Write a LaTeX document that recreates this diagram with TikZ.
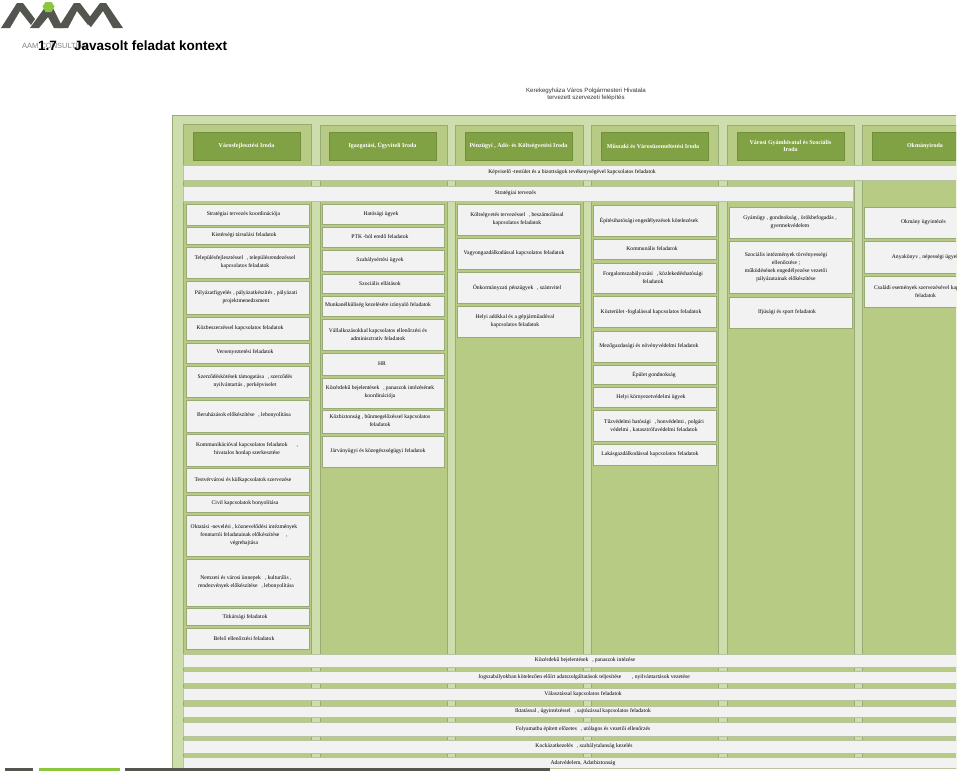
\documentclass[tikz,border=0pt]{standalone}
\usepackage{fontspec}
\setmainfont{Liberation Serif}
\setsansfont{Liberation Sans}
\definecolor{panelgreen}{HTML}{CDDDAC}
\definecolor{colgreen}{HTML}{B7CB84}
\definecolor{edgegreen}{HTML}{98AB76}
\definecolor{headgreen}{HTML}{80A244}
\definecolor{headedge}{HTML}{6F8F3A}
\definecolor{boxgray}{HTML}{F2F2F2}
\definecolor{logogray}{HTML}{53554F}
\definecolor{logogreen}{HTML}{8CC63F}
\newcommand{\gapc}{\hspace{0.7em},\hspace{0.2em}}
\tikzset{
	panel/.style={fill=panelgreen, draw=edgegreen, line width=0.6pt},
	column/.style={fill=colgreen, draw=edgegreen, line width=0.8pt},
	header/.style={fill=headgreen, draw=headedge, line width=0.6pt},
	headtext/.style={text=white, font=\bfseries\fontsize{6}{7.4}\selectfont, align=center},
	task/.style={fill=boxgray, draw=edgegreen, line width=0.9pt},
	tasktext/.style={font=\fontsize{5.6}{8}\selectfont, align=center},
	band/.style={fill=boxgray, draw=edgegreen!70, line width=0.3pt},
}
\begin{document}
\begin{tikzpicture}[x=1pt,y=-1pt]
	\useasboundingbox (0,0) rectangle (960,774);

	%Logo
	\fill[logogray] (1,28) -- (17,3) -- (23,3) -- (35,19) -- (31,25) -- (20,11) -- (10,28) -- cycle;
	\fill[logogray] (30,28) -- (46,6) -- (52,6) -- (63,28) -- (54,28) -- (48,17) -- (39,28) -- cycle;
	\fill[logogray] (58,28) -- (74,3) -- (80,3) -- (92,19) -- (88,25) -- (77,11) -- (68,28) -- cycle;
	\fill[logogray] (86,22) -- (100,3) -- (106,3) -- (123,28) -- (113,28) -- (103,11) -- (91,27) -- cycle;
	\fill[logogreen] (42.5,6.5) -- (45.5,2) -- (51.5,2) -- (54.5,6.5) -- (51.5,12) -- (45.5,12) -- cycle;
	\node[font=\sffamily\fontsize{7.5}{9}\selectfont, text=gray, anchor=west, inner sep=0pt] (brand) at (22,45.5) {AAM CONSULTING};
	\node[font=\sffamily\bfseries\fontsize{13.5}{15}\selectfont, anchor=west, inner sep=0pt] (title) at (38,45.5) {1.7\hspace{1.27em}Javasolt feladat kontext};

	%Caption
	\node[font=\sffamily\fontsize{6.1}{7.4}\selectfont, align=center, text=black!80] (caption) at (586,94.5) {Kerekegyháza Város Polgármesteri Hivatala\\tervezett szervezeti felépítés};

	\begin{scope}
	\clip (0,0) rectangle (956,774);

	%Panel and columns
	\filldraw[panel] (172,115) rectangle (970,768);
	\filldraw[column] (183,124) rectangle (311,768);
	\filldraw[column] (320,125) rectangle (447,768);
	\filldraw[column] (455,125) rectangle (583,768);
	\filldraw[column] (591,125) rectangle (718,768);
	\filldraw[column] (727,125) rectangle (854,768);
	\filldraw[column] (862,125) rectangle (990,768);

	%Offices
	\filldraw[header] (193,132) rectangle (300,160);
	\node[headtext] (varos) at (246.5,146) {Városfejlesztési Iroda};
	\filldraw[header] (329,132) rectangle (436,160);
	\node[headtext] (igazgatas) at (382.5,146) {Igazgatási, Ügyviteli Iroda};
	\filldraw[header] (465,132) rectangle (572,160);
	\node[headtext] (penzugy) at (518.5,146) {Pénzügyi , Adó- és Költségvetési Iroda};
	\filldraw[header] (601,132) rectangle (708,160);
	\node[headtext] (muszaki) at (653,146) {Műszaki és Városüzemeltetési Iroda};
	\filldraw[header] (737,132) rectangle (844,160);
	\node[headtext] (gyamhivatal) at (790.5,146) {Városi Gyámhivatal és Szociális\\Iroda};
	\filldraw[header] (872,132) rectangle (990,160);
	\node[headtext] (okmany) at (925,146) {Okmányiroda};

	%Bands
	\filldraw[band] (183,165) rectangle (970,180);
	\node[tasktext] (kepviselo) at (572,172.5) {Képviselő -testület és a bizottságok tevékenységével kapcsolatos feladatok};
	\filldraw[band] (183,186) rectangle (853,201);
	\node[tasktext] (strategia) at (515.5,193.5) {Stratégiai tervezés};

	\filldraw[band] (183,654) rectangle (970,667);
	\node[tasktext] (kozerdeku) at (585,660.5) {Közérdekű bejelentések\gapc panaszok intézése};
	\filldraw[band] (183,671) rectangle (970,683);
	\node[tasktext] (jogszabaly) at (584,677) {Jogszabályokban kötelezően előírt adatszolgáltatások teljesítése\hspace{1.9em}, nyilvántartások vezetése};
	\filldraw[band] (183,688) rectangle (970,700);
	\node[tasktext] (valasztas) at (583,694) {Választással kapcsolatos feladatok};
	\filldraw[band] (183,706) rectangle (970,717);
	\node[tasktext] (iktatas) at (583,711.5) {Iktatással , ügyintézéssel\gapc sajtózással kapcsolatos feladatok};
	\filldraw[band] (183,722) rectangle (970,736);
	\node[tasktext] (folyamat) at (583,729) {Folyamatba épített előzetes\gapc utólagos és vezetői ellenőrzés};
	\filldraw[band] (183,740) rectangle (970,753);
	\node[tasktext] (kockazat) at (584,746.5) {Kockázatkezelés\gapc szabálytalanság kezelés};
	\filldraw[band] (183,757) rectangle (970,768);
	\node[tasktext] (adat) at (583,763.5) {Adatvédelem, Adatbiztonság};

	%Varosfejlesztes
	\filldraw[task] (186,204) rectangle (309,225);
	\node[tasktext] (v1) at (243.5,214.5) {Stratégiai tervezés koordinációja};
	\filldraw[task] (186,227) rectangle (309,244);
	\node[tasktext] (v2) at (244,235.5) {Kistérségi társulási feladatok};
	\filldraw[task] (186,247) rectangle (309,278);
	\node[tasktext] (v3) at (245,262.5) {Településfejlesztéssel\gapc településrendezéssel\\kapcsolatos feladatok};
	\filldraw[task] (186,281) rectangle (309,314);
	\node[tasktext] (v4) at (246,297.5) {Pályázatfigyelés\hspace{0.3em}, pályázatkészítés\hspace{0.3em}, pályázati\\projektmenedzsment};
	\filldraw[task] (186,317) rectangle (309,340);
	\node[tasktext] (v5) at (240,328.5) {Közbeszerzéssel kapcsolatos feladatok};
	\filldraw[task] (186,343) rectangle (309,363);
	\node[tasktext] (v6) at (245,352.5) {Versenyeztetési feladatok};
	\filldraw[task] (186,366) rectangle (309,397);
	\node[tasktext] (v7) at (245,381.5) {Szerződéskötések támogatása\gapc szerződés\\nyilvántartás , perképviselet};
	\filldraw[task] (186,400) rectangle (309,432);
	\node[tasktext] (v8) at (244,415.5) {Beruházások előkészítése\gapc lebonyolítása};
	\filldraw[task] (186,434) rectangle (309,466);
	\node[tasktext] (v9) at (247,449.5) {Kommunikációval kapcsolatos feladatok\hspace{1.6em},\\hivatalos honlap szerkesztése};
	\filldraw[task] (186,468) rectangle (309,492);
	\node[tasktext] (v10) at (243,480) {Testvérvárosi és külkapcsolatok szervezése};
	\filldraw[task] (186,495) rectangle (309,512);
	\node[tasktext] (v11) at (245,503.5) {Civil kapcsolatok bonyolítása};
	\filldraw[task] (186,515) rectangle (309,556);
	\node[tasktext] (v12) at (244,535.5) {Oktatási -nevelési , köznevelődési intézmények\\fenntartói feladatainak előkészítése\hspace{1.2em},\\végrehajtása};
	\filldraw[task] (186,559) rectangle (309,606);
	\node[tasktext] (v13) at (246,582) {Nemzeti és városi ünnepek\hspace{0.7em}, kulturális ,\\rendezvények előkészítése\gapc lebonyolítása};
	\filldraw[task] (186,608) rectangle (309,625);
	\node[tasktext] (v14) at (245,617) {Titkársági feladatok};
	\filldraw[task] (186,628) rectangle (309,649);
	\node[tasktext] (v15) at (244,638.5) {Belső ellenőrzési feladatok};

	%Igazgatas
	\filldraw[task] (322,204) rectangle (444,224);
	\node[tasktext] (i1) at (381,214) {Hatósági ügyek};
	\filldraw[task] (322,227) rectangle (444,247);
	\node[tasktext] (i2) at (380,237) {PTK -ból eredő feladatok};
	\filldraw[task] (322,250) rectangle (444,271);
	\node[tasktext] (i3) at (380,260.5) {Szabálysértési ügyek};
	\filldraw[task] (322,274) rectangle (444,293);
	\node[tasktext] (i4) at (380,283.5) {Szociális ellátások};
	\filldraw[task] (322,296) rectangle (444,316);
	\node[tasktext] (i5) at (378,305.5) {Munkanélküliség kezelésére irányuló feladatok};
	\filldraw[task] (322,319) rectangle (444,350);
	\node[tasktext] (i6) at (378,334.5) {Vállalkozásokkal kapcsolatos ellenőrzési és\\adminisztratív feladatok};
	\filldraw[task] (322,353) rectangle (444,375);
	\node[tasktext] (i7) at (382,364) {HR};
	\filldraw[task] (322,378) rectangle (444,408);
	\node[tasktext] (i8) at (380,392.5) {Közérdekű bejelentések\gapc panaszok intézésének\\koordinációja};
	\filldraw[task] (322,410) rectangle (444,433);
	\node[tasktext] (i9) at (380,421) {Közbiztonság , bűnmegelőzéssel kapcsolatos\\feladatok};
	\filldraw[task] (322,436) rectangle (444,467);
	\node[tasktext] (i10) at (378,451) {Járványügyi és közegészségügyi feladatok};

	%Penzugy
	\filldraw[task] (457,204) rectangle (580,235);
	\node[tasktext] (p1) at (517,219.5) {Költségvetés tervezéssel\gapc beszámolással\\kapcsolatos feladatok};
	\filldraw[task] (457,238) rectangle (580,269);
	\node[tasktext] (p2) at (514,253) {Vagyongazdálkodással kapcsolatos feladatok};
	\filldraw[task] (457,272) rectangle (580,303);
	\node[tasktext] (p3) at (517,287.5) {Önkormányzati pénzügyek\gapc számvitel};
	\filldraw[task] (457,306) rectangle (580,337);
	\node[tasktext] (p4) at (515,321) {Helyi adókkal és a gépjárműadóval\\kapcsolatos feladatok};

	%Muszaki
	\filldraw[task] (593,205) rectangle (716,236);
	\node[tasktext] (m1) at (649,220.5) {Építésihatósági engedélyezések kötelezések};
	\filldraw[task] (593,239) rectangle (716,259);
	\node[tasktext] (m2) at (652,249) {Kommunális feladatok};
	\filldraw[task] (593,263) rectangle (716,293);
	\node[tasktext] (m3) at (653,278) {Forgalomszabályozási\gapc közlekedéshatósági\\feladatok};
	\filldraw[task] (593,296) rectangle (716,327);
	\node[tasktext] (m4) at (651,312) {Közterület -foglalással kapcsolatos feladatok};
	\filldraw[task] (593,331) rectangle (716,362);
	\node[tasktext] (m5) at (649,346) {Mezőgazdasági és növényvédelmi feladatok};
	\filldraw[task] (593,365) rectangle (716,384);
	\node[tasktext] (m6) at (654,374.5) {Épület gondnokság};
	\filldraw[task] (593,387) rectangle (716,407);
	\node[tasktext] (m7) at (651,397) {Helyi környezetvédelmi ügyek};
	\filldraw[task] (593,410) rectangle (716,441);
	\node[tasktext] (m8) at (654,425.5) {Tűzvédelmi hatósági\gapc honvédelmi , polgári\\védelmi , katasztrófavédelmi feladatok};
	\filldraw[task] (593,444) rectangle (716,465);
	\node[tasktext] (m9) at (650,454) {Lakásgazdálkodással kapcsolatos feladatok};

	%Gyamhivatal
	\filldraw[task] (729,207) rectangle (852,238);
	\node[tasktext] (gy1) at (790,222.5) {Gyámügy , gondnokság , örökbefogadás ,\\gyermekvédelem};
	\filldraw[task] (729,241) rectangle (852,293);
	\node[tasktext] (gy2) at (786,267) {Szociális intézmények törvényességi\\ellenőrzése ;\\működésének engedélyezése vezetői\\pályázatainak előkészítése};
	\filldraw[task] (729,297) rectangle (852,328);
	\node[tasktext] (gy3) at (787,312.5) {Ifjúsági és sport feladatok};

	%Okmany
	\filldraw[task] (864,207) rectangle (987,238);
	\node[tasktext] (o1) at (923.5,222.5) {Okmány ügyintézés};
	\filldraw[task] (864,241) rectangle (987,273);
	\node[tasktext] (o2) at (925.5,257) {Anyakönyv , népességi ügyek};
	\filldraw[task] (864,276) rectangle (987,307);
	\node[tasktext] (o3) at (925.5,291.5) {Családi események szervezésével kapcsolatos\\feladatok};
	\end{scope}

	%Footer
	\fill[logogray] (5,768) rectangle (33,770.5);
	\fill[logogreen] (39,768) rectangle (120,770.5);
	\fill[logogray] (125,768) rectangle (550,770.5);
\end{tikzpicture}
\end{document}
